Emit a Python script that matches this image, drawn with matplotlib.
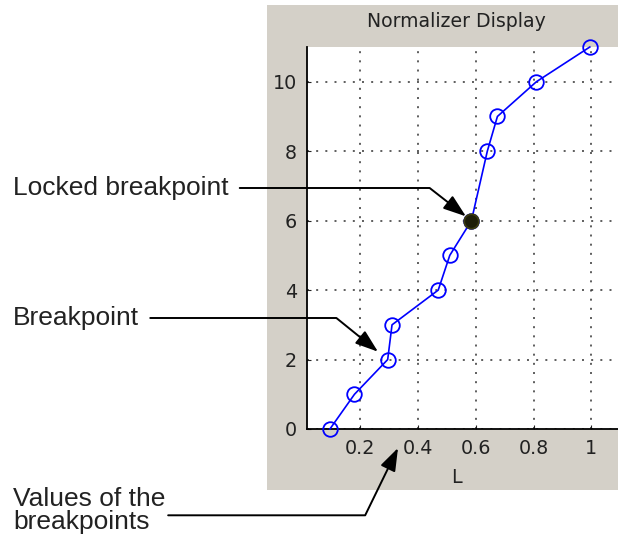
import numpy as np
import matplotlib.pyplot as plt
from matplotlib.patches import Rectangle

# breakpoint data
L_vals = [0.095, 0.18, 0.295, 0.31, 0.47, 0.51, 0.585, 0.64, 0.675, 0.81, 0.995]
idx_vals = [0, 1, 2, 3, 4, 5, 6, 8, 9, 10, 11]
locked_idx = 6
xticks = [0.2, 0.4, 0.6, 0.8, 1.0]
xtick_labels = ['0.2', '0.4', '0.6', '0.8', '1']
yticks = [0, 2, 4, 6, 8, 10]

fig = plt.figure(figsize=(6.18, 5.37), dpi=100)
fig.patch.set_facecolor('white')

# gray panel behind the axes
fig.patches.append(Rectangle((267 / 618, 47 / 537), 1 - 267 / 618, 485 / 537,
                             transform=fig.transFigure, facecolor='#d4d0c8',
                             edgecolor='none', zorder=-10))

ax = fig.add_axes([306.7 / 618, 108 / 537, 1 - 306.7 / 618, 382 / 537])
ax.set_facecolor('white')
ax.set_xlim(0.0145, 1.0926)
ax.set_ylim(0, 11)

ax.plot(L_vals, idx_vals, color='#0000ff', lw=1.2, marker='o', ms=10.5,
        mfc='none', mec='#0000ff', mew=1.3, clip_on=False, zorder=3)
ax.plot(L_vals[locked_idx], idx_vals[locked_idx], marker='o', ms=10.5,
        mfc='#1c1c08', mec='#3a3a10', mew=1.3, zorder=4)

ax.set_xticks(xticks)
ax.set_xticklabels(xtick_labels)
ax.set_yticks(yticks)
ax.tick_params(direction='in', length=3, colors='#222222', labelsize=13.8,
               width=0.8)
ax.tick_params(axis='y', pad=7)
ax.tick_params(axis='x', pad=7)
ax.grid(True, color='#333333', lw=1.1, linestyle=(0, (1.3, 4.7)))
for s in ['top', 'right']:
    ax.spines[s].set_visible(False)
for s in ['left', 'bottom']:
    ax.spines[s].set_linewidth(1.3)
    ax.spines[s].set_color('black')

ax.set_xlabel('L', fontsize=13.8, color='#222222')
ax.xaxis.set_label_coords(0.48, -0.103)
ax.set_title('Normalizer Display', fontsize=13.6, color='#222222', x=0.48,
             y=1.066, va='center', pad=0)

# callouts
fnt = dict(family='Liberation Sans', fontsize=19, color='#222222')
arrow = dict(arrowstyle='-|>,head_length=1.0,head_width=0.35',
             mutation_scale=14, color='black', lw=1.4)

ax.annotate('Locked breakpoint', xy=(L_vals[locked_idx], idx_vals[locked_idx]),
            xytext=(13, 349), textcoords='figure pixels', ha='left', va='center',
            annotation_clip=False,
            arrowprops=dict(arrow, relpos=(1, 0.5), shrinkA=6, shrinkB=5,
                            connectionstyle='angle,angleA=0,angleB=142,rad=0'),
            **fnt)
ax.annotate('Breakpoint', xy=(L_vals[2], idx_vals[2]),
            xytext=(13, 219), textcoords='figure pixels', ha='left', va='center',
            annotation_clip=False,
            arrowprops=dict(arrow, relpos=(1, 0.5), shrinkA=6, shrinkB=9,
                            connectionstyle='angle,angleA=0,angleB=141,rad=0'),
            **fnt)
ax.annotate('Values of the\nbreakpoints', xy=(398, 89), xycoords='figure pixels',
            xytext=(13, 26.5), textcoords='figure pixels', ha='left', va='center',
            linespacing=1.0, annotation_clip=False,
            arrowprops=dict(arrow, relpos=(1, 0.4), shrinkA=0, shrinkB=0,
                            connectionstyle='angle,angleA=0,angleB=-116,rad=0'),
            **fnt)

fig.savefig('out.png', dpi=100)
